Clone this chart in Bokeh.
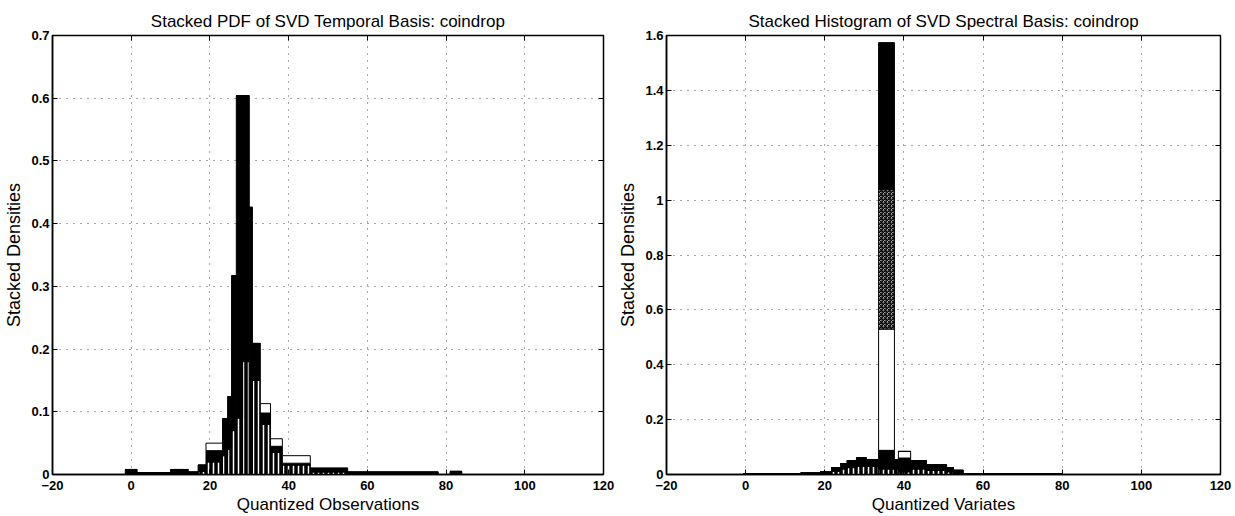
from bokeh.plotting import figure
from bokeh.layouts import row
from bokeh.models import (LinearAxis, FixedTicker, CustomJSTickFormatter,
                          ColumnDataSource, Range1d)
from bokeh.embed import file_html
from bokeh.resources import INLINE

# ---------------- data ----------------
x_ticks = [-20, 0, 20, 40, 60, 80, 100, 120]

left_title = "Stacked PDF of SVD Temporal Basis: coindrop"
left_xlabel = "Quantized Observations"
left_yticks = [0, 0.1, 0.2, 0.3, 0.4, 0.5, 0.6, 0.7]
left_lo = [-1.5, 1.5, 10, 14.5, 17, 19, 23.2, 24.5, 25.5, 26.7, 28.3, 30, 30.8, 32.8, 35.4, 38.4, 45.5, 55, 81]
left_hi = [1.5, 10, 14.5, 17, 19, 23.2, 24.5, 25.5, 26.7, 28.3, 30, 30.8, 32.8, 35.4, 38.4, 45.5, 55, 78, 84]
left_stripe = [0, 0, 0, 0, 0.005, 0.02, 0.03, 0.04, 0.07, 0.09, 0.18, 0.19, 0.15, 0.08, 0.035, 0.015, 0.004, 0, 0]
left_solid = [0.008, 0.003, 0.008, 0.004, 0.010, 0.018, 0.059, 0.084, 0.247, 0.514, 0.424, 0.236, 0.059, 0.018, 0.010, 0.003, 0.006, 0.004, 0.005]
left_open = [0, 0, 0, 0, 0, 0.012, 0, 0, 0, 0, 0, 0, 0, 0.015, 0.012, 0.012, 0, 0, 0]

right_title = "Stacked Histogram of SVD Spectral Basis: coindrop"
right_xlabel = "Quantized Variates"
right_yticks = [0, 0.2, 0.4, 0.6, 0.8, 1, 1.2, 1.4, 1.6]
right_lo = [-0.5, 13.9, 18.9, 21.7, 24, 25.6, 28, 30.5, 33.6, 37.6, 38.6, 41.7, 45.7, 50.8, 52.5, 55]
right_hi = [13.9, 18.9, 21.7, 24, 25.6, 28, 30.5, 33.6, 37.6, 38.6, 41.7, 45.7, 50.8, 52.5, 55, 80]
right_stripe = [0, 0, 0, 0.012, 0.02, 0.025, 0.03, 0.03, 0.02, 0.02, 0.01, 0.02, 0.015, 0.01, 0, 0]
right_black1 = [0.003, 0.005, 0.01, 0.013, 0.02, 0.025, 0.03, 0.024, 0.068, 0.034, 0.05, 0.03, 0.02, 0.015, 0.015, 0.003]
right_open = [0, 0, 0, 0, 0, 0, 0, 0, 0.442, 0, 0.024, 0, 0, 0, 0, 0]
right_speckle = [0, 0, 0, 0, 0, 0, 0, 0, 0.51, 0, 0, 0, 0, 0, 0, 0]
right_black2 = [0, 0, 0, 0, 0, 0, 0, 0, 0.534, 0, 0, 0, 0, 0, 0, 0]

y_label = "Stacked Densities"

FONT = "Liberation Sans"


def style(p, yticks, xlabel, ylabel):
    p.outline_line_color = "black"
    p.outline_line_width = 1.5
    p.xaxis.axis_label = xlabel
    p.yaxis.axis_label = ylabel
    fmt_y = {t: ("%g" % t) for t in yticks}
    for ax, ticks in ((p.xaxis[0], x_ticks), (p.yaxis[0], yticks)):
        ax.ticker = FixedTicker(ticks=ticks)
        ax.major_tick_in = 5
        ax.major_tick_out = 0
        ax.minor_tick_line_color = None
        ax.axis_line_color = "black"
        ax.axis_line_width = 1.5
        ax.major_tick_line_color = "black"
        ax.major_label_text_font = FONT
        ax.major_label_text_font_style = "bold"
        ax.major_label_text_font_size = "13px"
        ax.major_label_text_color = "black"
        ax.axis_label_text_font = FONT
        ax.axis_label_text_font_style = "normal"
        ax.axis_label_text_font_size = "17px"
        ax.axis_label_text_color = "black"
    p.yaxis[0].axis_label_text_font_size = "18px"
    p.yaxis[0].major_label_overrides = fmt_y
    p.xaxis[0].major_label_standoff = 6
    p.xaxis[0].axis_label_standoff = 2
    p.yaxis[0].major_label_standoff = 3
    p.yaxis[0].axis_label_standoff = 4
    for ticks, side in ((x_ticks, "above"), (yticks, "right")):
        ax = LinearAxis(ticker=FixedTicker(ticks=ticks),
                        formatter=CustomJSTickFormatter(code="return ''"),
                        major_tick_in=5, major_tick_out=0,
                        minor_tick_line_color=None, axis_line_color=None,
                        major_label_standoff=0,
                        major_tick_line_color="black")
        p.add_layout(ax, side)
    for g, ticks in ((p.xgrid[0], x_ticks), (p.ygrid[0], yticks)):
        g.ticker = FixedTicker(ticks=ticks)
        g.grid_line_color = "black"
        g.grid_line_dash = "1 6"
        g.grid_line_alpha = 0.7
        g.grid_line_width = 1
    p.title.text_font = FONT
    p.title.text_font_style = "normal"
    p.title.text_font_size = "17px"
    p.title.align = "center"
    p.title.text_color = "black"
    p.background_fill_color = "white"
    p.border_fill_color = "white"


def make_src(lo, hi, series):
    d = {"x": [(a + b) / 2 for a, b in zip(lo, hi)],
         "w": [(b - a) for a, b in zip(lo, hi)]}
    d.update(series)
    return ColumnDataSource(d)


# ---------------- left ----------------
p1 = figure(width=615, height=516, frame_width=551, frame_height=439,
            min_border_left=52, min_border_right=12, min_border_top=35,
            min_border_bottom=42, x_range=Range1d(-20, 120), y_range=Range1d(0, 0.7),
            title=left_title, toolbar_location=None, output_backend="svg")
src1 = make_src(left_lo, left_hi, {"stripe": left_stripe, "solid": left_solid, "open": left_open})
p1.vbar_stack(["stripe", "solid", "open"], x="x", width="w", source=src1,
              fill_color=["black", "black", "white"],
              line_color="black", line_width=1,
              hatch_pattern=["vertical_line", "blank", "blank"],
              hatch_color=["white", "white", "white"],
              hatch_scale=5, hatch_weight=1.5)
style(p1, left_yticks, left_xlabel, y_label)

# ---------------- right ----------------
p2 = figure(width=620, height=516, frame_width=554, frame_height=439,
            min_border_left=48, min_border_right=18, min_border_top=35,
            min_border_bottom=42, x_range=Range1d(-20, 120), y_range=Range1d(0, 1.6),
            title=right_title, toolbar_location=None, output_backend="svg")
src2 = make_src(right_lo, right_hi, {"stripe": right_stripe, "black1": right_black1,
                                     "open": right_open, "speckle": right_speckle,
                                     "black2": right_black2})
p2.vbar_stack(["stripe", "black1", "open", "speckle", "black2"], x="x", width="w", source=src2,
              fill_color=["black", "black", "white", "white", "black"],
              line_color="black", line_width=1,
              hatch_pattern=["vertical_line", "blank", "blank", "criss_cross", "blank"],
              hatch_color=["white", "white", "white", "black", "white"],
              hatch_scale=[5, 4, 4, 4, 4], hatch_weight=[1.5, 1.2, 1.2, 1.2, 1.2])
style(p2, right_yticks, right_xlabel, y_label)

layout = row(p1, p2)
open("out.html", "w").write(file_html(layout, INLINE))
